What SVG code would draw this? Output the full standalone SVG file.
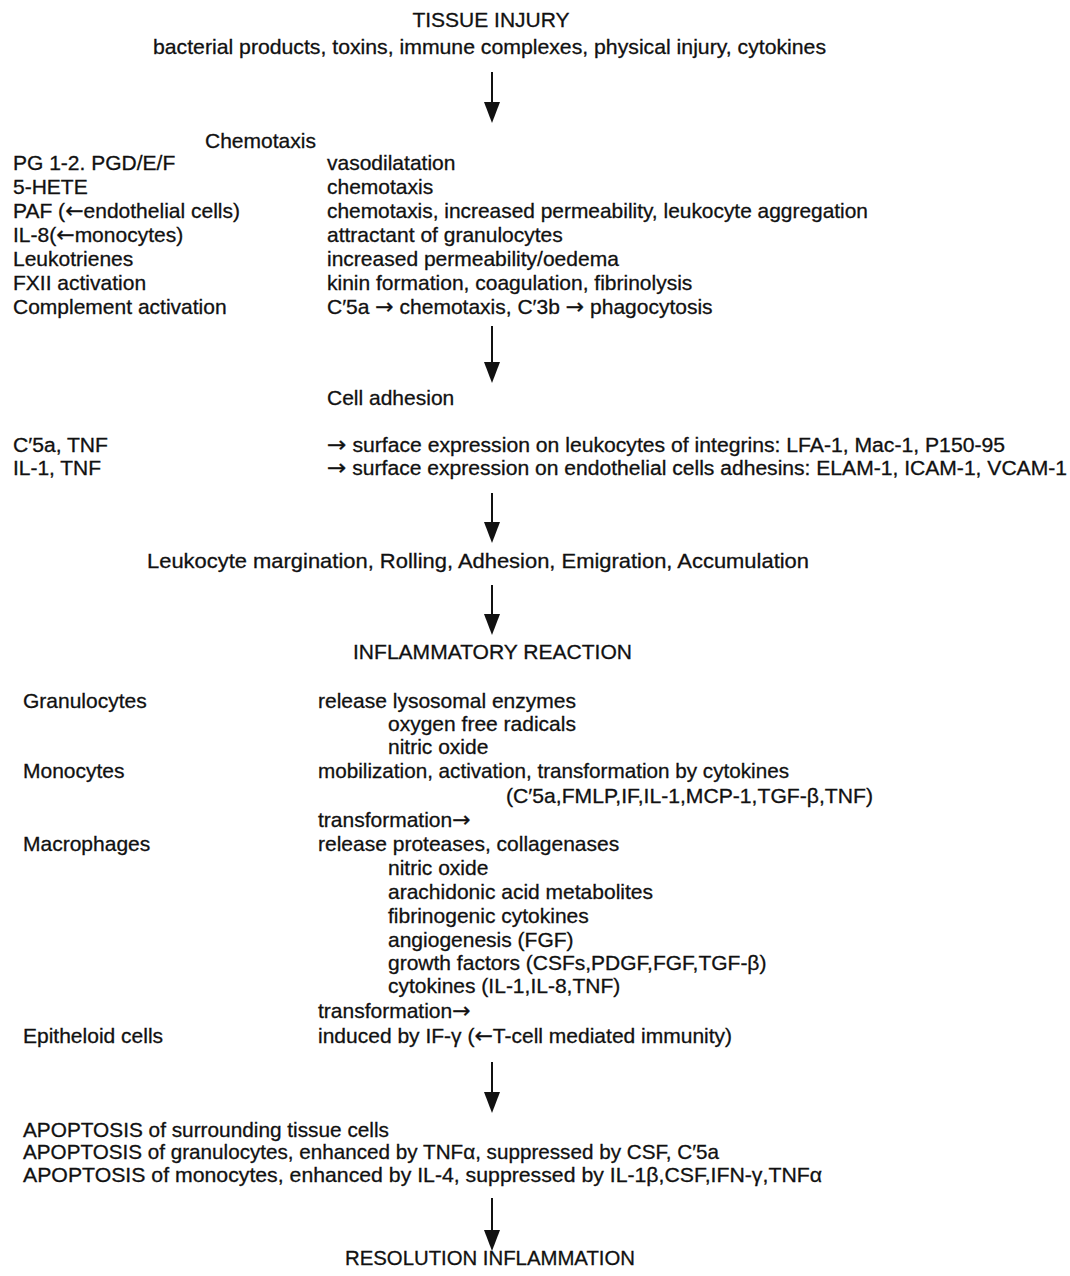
<svg xmlns="http://www.w3.org/2000/svg" width="1070" height="1276" viewBox="0 0 1070 1276">
<style>
text{font-family:"Liberation Sans",Arial,Helvetica,sans-serif;font-size:21px;fill:#111;stroke:#111;stroke-width:0.3}
.c{text-anchor:middle}
.s{font-size:20px}
.a{font-family:"DejaVu Sans",sans-serif;font-size:22px}
.ln{stroke:#111;stroke-width:2;fill:none}
.hd{fill:#111}
</style>
<rect width="1070" height="1276" fill="#fff"/>
<g id="connectors">
<line class="ln" x1="492" y1="72" x2="492" y2="104"/><path class="hd" d="M484,102 L500,102 L492,123 Z"/>
<line class="ln" x1="492" y1="326" x2="492" y2="364"/><path class="hd" d="M484,362 L500,362 L492,383 Z"/>
<line class="ln" x1="492" y1="493" x2="492" y2="524"/><path class="hd" d="M484,522 L500,522 L492,543 Z"/>
<line class="ln" x1="492" y1="585" x2="492" y2="616"/><path class="hd" d="M484,614 L500,614 L492,635 Z"/>
<line class="ln" x1="492" y1="1062" x2="492" y2="1094"/><path class="hd" d="M484,1092 L500,1092 L492,1113 Z"/>
<line class="ln" x1="492" y1="1198" x2="492" y2="1232"/><path class="hd" d="M484,1230 L500,1230 L492,1251 Z"/>
</g>
<g id="tissue-injury">
<text class="c" x="491" y="27">TISSUE INJURY</text>
<text x="153" y="54" textLength="673" lengthAdjust="spacingAndGlyphs">bacterial products, toxins, immune complexes, physical injury, cytokines</text>
</g>
<g id="chemotaxis">
<text x="205" y="148">Chemotaxis</text>
<text x="13" y="170">PG 1-2. PGD/E/F</text>
<text x="13" y="194">5-HETE</text>
<text x="13" y="218">PAF (<tspan class="a">←</tspan>endothelial cells)</text>
<text x="13" y="242">IL-8(<tspan class="a">←</tspan>monocytes)</text>
<text x="13" y="266">Leukotrienes</text>
<text x="13" y="290">FXII activation</text>
<text x="13" y="314">Complement activation</text>
<text x="327" y="170">vasodilatation</text>
<text x="327" y="194">chemotaxis</text>
<text x="327" y="218" textLength="541" lengthAdjust="spacingAndGlyphs">chemotaxis, increased permeability, leukocyte aggregation</text>
<text x="327" y="242">attractant of granulocytes</text>
<text x="327" y="266">increased permeability/oedema</text>
<text x="327" y="290">kinin formation, coagulation, fibrinolysis</text>
<text x="327" y="314">C′5a <tspan class="a">→</tspan> chemotaxis, C′3b <tspan class="a">→</tspan> phagocytosis</text>
</g>
<g id="cell-adhesion">
<text x="327" y="405">Cell adhesion</text>
<text class="s" x="13" y="452" textLength="95" lengthAdjust="spacingAndGlyphs">C′5a, TNF</text>
<text class="s" x="13" y="475" textLength="88" lengthAdjust="spacingAndGlyphs">IL-1, TNF</text>
<text class="s" x="327" y="452" textLength="678" lengthAdjust="spacingAndGlyphs"><tspan class="a">→</tspan> surface expression on leukocytes of integrins: LFA-1, Mac-1, P150-95</text>
<text class="s" x="327" y="475" textLength="740" lengthAdjust="spacingAndGlyphs"><tspan class="a">→</tspan> surface expression on endothelial cells adhesins: ELAM-1, ICAM-1, VCAM-1</text>
</g>
<g id="leukocyte-margination">
<text x="147" y="568" textLength="662" lengthAdjust="spacingAndGlyphs">Leukocyte margination, Rolling, Adhesion, Emigration, Accumulation</text>
</g>
<g id="inflammatory-reaction">
<text x="353" y="659" textLength="279" lengthAdjust="spacingAndGlyphs">INFLAMMATORY REACTION</text>
<text x="23" y="708">Granulocytes</text>
<text x="318" y="708">release lysosomal enzymes</text>
<text x="388" y="731">oxygen free radicals</text>
<text x="388" y="754">nitric oxide</text>
<text x="23" y="778">Monocytes</text>
<text x="318" y="778" textLength="471" lengthAdjust="spacingAndGlyphs">mobilization, activation, transformation by cytokines</text>
<text x="506" y="803" textLength="367" lengthAdjust="spacingAndGlyphs">(C′5a,FMLP,IF,IL-1,MCP-1,TGF-β,TNF)</text>
<text x="318" y="827">transformation<tspan class="a">→</tspan></text>
<text x="23" y="851">Macrophages</text>
<text x="318" y="851">release proteases, collagenases</text>
<text x="388" y="875">nitric oxide</text>
<text x="388" y="899">arachidonic acid metabolites</text>
<text x="388" y="923">fibrinogenic cytokines</text>
<text x="388" y="947">angiogenesis (FGF)</text>
<text x="388" y="970">growth factors (CSFs,PDGF,FGF,TGF-β)</text>
<text x="388" y="993">cytokines (IL-1,IL-8,TNF)</text>
<text x="318" y="1018">transformation<tspan class="a">→</tspan></text>
<text x="23" y="1043">Epitheloid cells</text>
<text x="318" y="1043">induced by IF-γ (<tspan class="a">←</tspan>T-cell mediated immunity)</text>
</g>
<g id="apoptosis">
<text x="23" y="1137" textLength="366" lengthAdjust="spacingAndGlyphs">APOPTOSIS of surrounding tissue cells</text>
<text x="23" y="1159" textLength="696" lengthAdjust="spacingAndGlyphs">APOPTOSIS of granulocytes, enhanced by TNFα, suppressed by CSF, C′5a</text>
<text x="23" y="1182" textLength="799" lengthAdjust="spacingAndGlyphs">APOPTOSIS of monocytes, enhanced by IL-4, suppressed by IL-1β,CSF,IFN-γ,TNFα</text>
</g>
<g id="resolution">
<text x="345" y="1265" textLength="290" lengthAdjust="spacingAndGlyphs">RESOLUTION INFLAMMATION</text>
</g>
</svg>
